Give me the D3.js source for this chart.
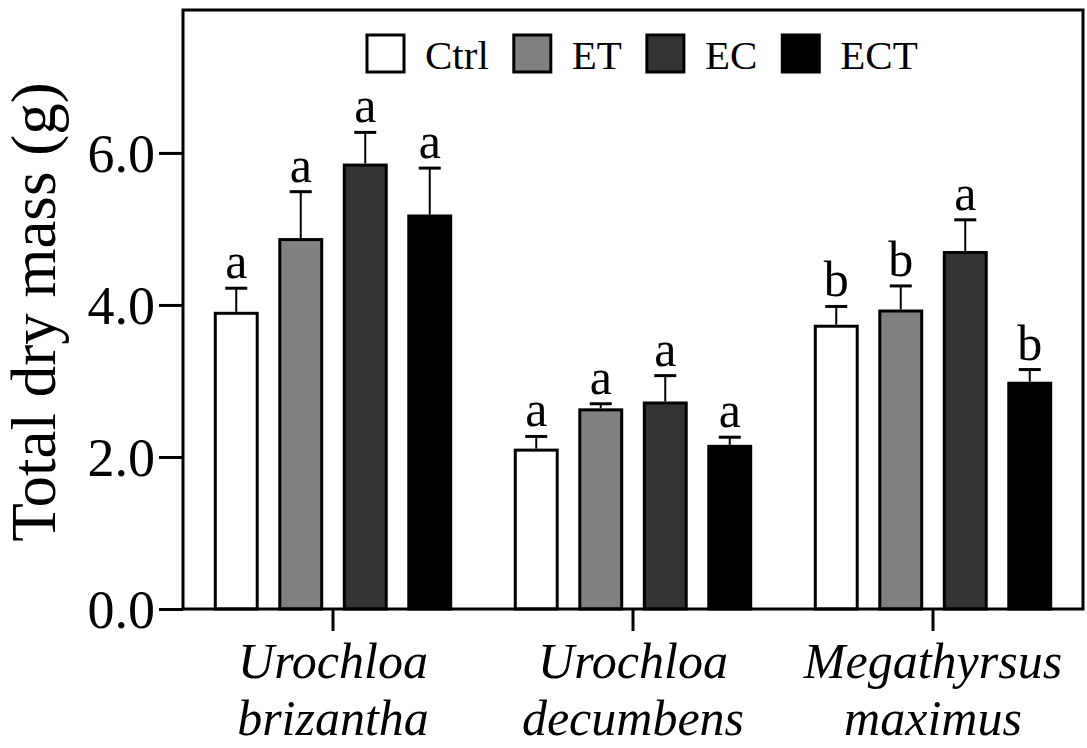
<!DOCTYPE html>
<html>
<head>
<meta charset="utf-8">
<script src="https://cdn.jsdelivr.net/npm/d3@7"></script>
<style>
  html, body { margin: 0; padding: 0; background: #fff; }
  svg { display: block; }
  text { font-family: "Liberation Serif", "Times New Roman", serif; fill: #000; }
</style>
</head>
<body>
<svg id="chart" width="1087" height="748"></svg>
<script>
// ---- Data ----
const species = ["Urochloa brizantha", "Urochloa decumbens", "Megathyrsus maximus"];
const speciesLines = [["Urochloa", "brizantha"], ["Urochloa", "decumbens"], ["Megathyrsus", "maximus"]];
const treatments = ["Ctrl", "ET", "EC", "ECT"];
const treatmentColors = ["#ffffff", "#808080", "#333333", "#000000"];
const ctrlMean = [3.89, 2.09, 3.72];
const etMean   = [4.86, 2.62, 3.92];
const ecMean   = [5.84, 2.71, 4.69];
const ectMean  = [5.17, 2.14, 2.97];
const ctrlErr  = [0.33, 0.18, 0.26];
const etErr    = [0.63, 0.08, 0.33];
const ecErr    = [0.43, 0.36, 0.43];
const ectErr   = [0.63, 0.12, 0.18];
const ctrlLetters = ["a", "a", "b"];
const etLetters   = ["a", "a", "b"];
const ecLetters   = ["a", "a", "a"];
const ectLetters  = ["a", "a", "b"];
const yTicks = [0, 2, 4, 6];
const yMax = 7.88;
const yTitle = "Total dry mass (g)";

const means = [ctrlMean, etMean, ecMean, ectMean];
const errs = [ctrlErr, etErr, ecErr, ectErr];
const letters = [ctrlLetters, etLetters, ecLetters, ectLetters];

const rows = [];
species.forEach((s, i) => {
  treatments.forEach((t, j) => {
    rows.push({ species: s, treatment: t, mean: means[j][i], err: errs[j][i], letter: letters[j][i], color: treatmentColors[j] });
  });
});

// ---- Layout ----
const W = 1087, H = 748;
const margin = { top: 10, right: 4, bottom: 139, left: 183 };
const iw = W - margin.left - margin.right;
const ih = H - margin.top - margin.bottom;

const svg = d3.select("#chart");
const g = svg.append("g").attr("transform", `translate(${margin.left},${margin.top})`);

const x0 = d3.scaleBand().domain(species).range([0, iw]).padding(0);
const x1 = d3.scaleBand().domain(treatments)
  .range([-129, 129]).paddingInner(0.35).paddingOuter(0.175);
const y = d3.scaleLinear().domain([0, yMax]).range([ih, 0]);
const color = d3.scaleOrdinal().domain(treatments).range(treatmentColors);

// Bars
const barG = g.append("g");
const bx = d => x0(d.species) + x0.bandwidth() / 2 + x1(d.treatment);
barG.selectAll("rect").data(rows).join("rect")
  .attr("x", bx)
  .attr("width", x1.bandwidth())
  .attr("y", d => y(d.mean))
  .attr("height", d => y(0) - y(d.mean))
  .attr("fill", d => color(d.treatment))
  .attr("stroke", "#000")
  .attr("stroke-width", 3);

// Error bars
const capW = 22;
const errG = g.append("g");
errG.selectAll("line.v").data(rows).join("line").attr("class", "v")
  .attr("x1", d => bx(d) + x1.bandwidth() / 2)
  .attr("x2", d => bx(d) + x1.bandwidth() / 2)
  .attr("y1", d => y(d.mean) - 1.5)
  .attr("y2", d => y(d.mean + d.err))
  .attr("stroke", "#000").attr("stroke-width", 2);
errG.selectAll("line.c").data(rows).join("line").attr("class", "c")
  .attr("x1", d => bx(d) + x1.bandwidth() / 2 - capW / 2)
  .attr("x2", d => bx(d) + x1.bandwidth() / 2 + capW / 2)
  .attr("y1", d => y(d.mean + d.err))
  .attr("y2", d => y(d.mean + d.err))
  .attr("stroke", "#000").attr("stroke-width", 3);

// Letters
g.append("g").selectAll("text").data(rows).join("text")
  .attr("x", d => bx(d) + x1.bandwidth() / 2)
  .attr("y", d => y(d.mean + d.err) - 10)
  .attr("text-anchor", "middle")
  .style("font-size", "50px")
  .text(d => d.letter);

// Frame
g.append("rect").attr("x", 0).attr("y", 0).attr("width", iw).attr("height", ih)
  .attr("fill", "none").attr("stroke", "#000").attr("stroke-width", 3);

// Y axis
const yAxis = g.append("g")
  .call(d3.axisLeft(y).tickValues(yTicks).tickFormat(d3.format(".1f")).tickSize(24).tickPadding(4));
yAxis.select(".domain").remove();
yAxis.selectAll(".tick line").attr("stroke", "#000").attr("stroke-width", 3);
yAxis.selectAll(".tick text").style("font-size", "54px")
  .style("font-family", '"Liberation Serif", serif').attr("dy", "0.34em");

// X axis
const xAxis = g.append("g").attr("transform", `translate(0,${ih})`)
  .call(d3.axisBottom(x0).tickSize(22).tickFormat(""));
xAxis.select(".domain").remove();
xAxis.selectAll(".tick line").attr("stroke", "#000").attr("stroke-width", 3);

const labG = g.append("g");
species.forEach((s, i) => {
  const t = labG.append("text")
    .attr("x", x0(s) + x0.bandwidth() / 2)
    .attr("y", ih + 69)
    .attr("text-anchor", "middle")
    .style("font-size", "50px")
    .style("font-style", "italic");
  speciesLines[i].forEach((line, k) => {
    t.append("tspan").attr("x", x0(s) + x0.bandwidth() / 2)
      .attr("dy", k === 0 ? 0 : 57).text(line);
  });
});

// Y title
svg.append("text")
  .attr("transform", `translate(55,${margin.top + 302}) rotate(-90)`)
  .attr("text-anchor", "middle")
  .style("font-size", "63px")
  .text(yTitle);

// Legend
const legend = svg.append("g").attr("transform", "translate(367,35)");
let cx = 0;
const boxS = 37;
treatments.forEach((t, j) => {
  const item = legend.append("g").attr("transform", `translate(${cx},0)`);
  item.append("rect").attr("x", 0).attr("y", 0).attr("width", boxS).attr("height", boxS)
    .attr("fill", color(t)).attr("stroke", "#000").attr("stroke-width", 3);
  const txt = item.append("text").attr("x", boxS + 21).attr("y", 34)
    .style("font-size", "41px").text(t);
  const tw = txt.node().getComputedTextLength();
  cx += boxS + 21 + tw + 25;
});
</script>
</body>
</html>
